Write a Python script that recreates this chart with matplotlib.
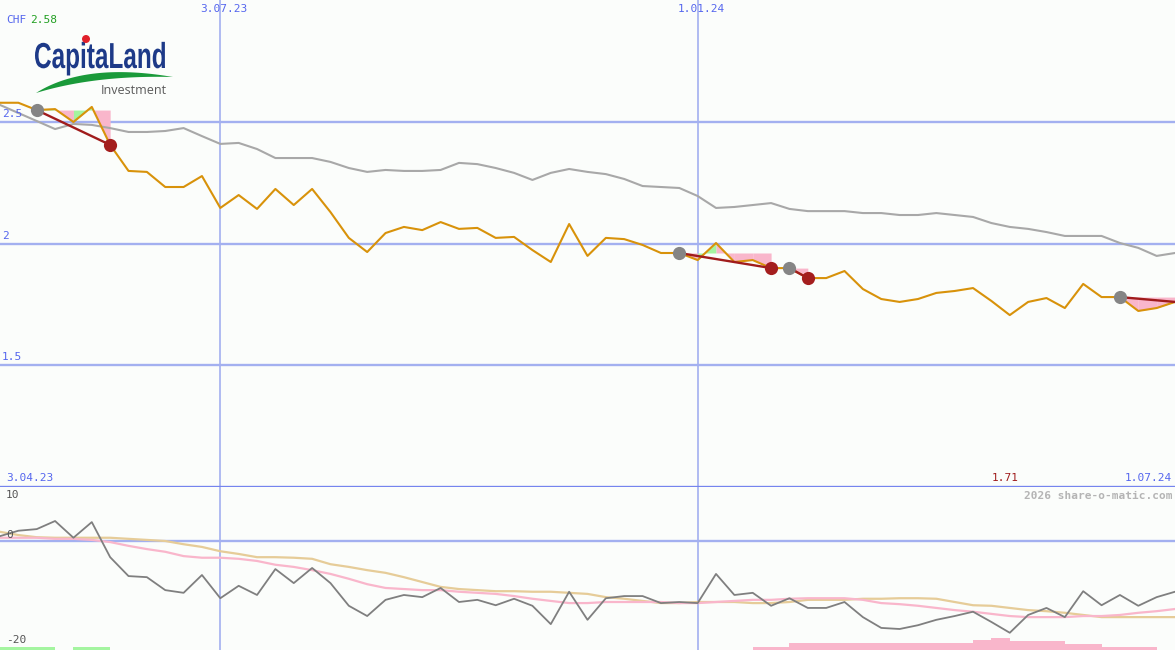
import numpy as np
import matplotlib.pyplot as plt
from matplotlib.patches import Polygon, Ellipse, PathPatch
from matplotlib.textpath import TextPath
from matplotlib.font_manager import FontProperties
from matplotlib.transforms import blended_transform_factory, Affine2D

# weekly closes, CHF
weeks = list(range(65))
price = [2.578, 2.578, 2.548, 2.552, 2.499, 2.561, 2.405, 2.298, 2.294, 2.232,
         2.232, 2.277, 2.146, 2.199, 2.142, 2.224, 2.158, 2.224, 2.129, 2.023,
         1.965, 2.043, 2.068, 2.055, 2.088, 2.060, 2.064, 2.023, 2.027, 1.973,
         1.924, 2.080, 1.949, 2.023, 2.018, 1.994, 1.961, 1.961, 1.932, 2.002,
         1.924, 1.932, 1.899, 1.899, 1.858, 1.858, 1.887, 1.813, 1.772, 1.760,
         1.772, 1.797, 1.805, 1.817, 1.764, 1.706, 1.760, 1.776, 1.735, 1.834,
         1.780, 1.780, 1.723, 1.735, 1.760]
avg_long = [2.569, 2.536, 2.503, 2.470, 2.491, 2.487, 2.474, 2.458, 2.458, 2.462,
            2.474, 2.441, 2.409, 2.413, 2.388, 2.351, 2.351, 2.351, 2.335, 2.310,
            2.294, 2.302, 2.298, 2.298, 2.302, 2.331, 2.326, 2.310, 2.290, 2.261,
            2.290, 2.306, 2.294, 2.285, 2.265, 2.236, 2.232, 2.228, 2.195, 2.146,
            2.150, 2.158, 2.166, 2.142, 2.133, 2.133, 2.133, 2.125, 2.125, 2.117,
            2.117, 2.125, 2.117, 2.109, 2.084, 2.068, 2.060, 2.047, 2.031, 2.031,
            2.031, 2.002, 1.982, 1.949, 1.961]

# lower panel, percent
perf = [0.9, 1.9, 2.2, 3.7, 0.6, 3.5, -3.0, -6.5, -6.7, -9.1,
        -9.6, -6.3, -10.6, -8.3, -10.0, -5.2, -7.8, -5.0, -7.8, -12.0,
        -13.9, -10.9, -10.0, -10.4, -8.7, -11.3, -10.9, -11.9, -10.7, -12.0,
        -15.4, -9.4, -14.6, -10.6, -10.2, -10.2, -11.5, -11.3, -11.5, -6.1,
        -10.0, -9.6, -12.0, -10.6, -12.4, -12.4, -11.3, -14.1, -16.1, -16.3,
        -15.6, -14.6, -13.9, -13.1, -15.0, -17.0, -13.7, -12.4, -14.1, -9.3,
        -11.9, -10.0, -12.0, -10.4, -9.4]
perf_fast = [0.6, 0.6, 0.6, 0.4, 0.4, 0.2, -0.2, -0.9, -1.5, -2.0,
             -2.8, -3.1, -3.1, -3.3, -3.7, -4.4, -4.8, -5.4, -6.1, -7.0,
             -8.0, -8.7, -8.9, -9.1, -9.1, -9.4, -9.6, -9.8, -10.2, -10.7,
             -11.1, -11.5, -11.5, -11.3, -11.3, -11.3, -11.3, -11.5, -11.5, -11.3,
             -11.1, -10.9, -10.9, -10.7, -10.6, -10.6, -10.6, -10.9, -11.5, -11.7,
             -12.0, -12.4, -12.8, -13.1, -13.5, -13.9, -14.1, -14.1, -14.1, -13.9,
             -13.9, -13.7, -13.3, -13.0, -12.6]
perf_slow = [1.7, 1.1, 0.7, 0.6, 0.6, 0.6, 0.6, 0.4, 0.2, 0.0,
             -0.6, -1.1, -1.9, -2.4, -3.0, -3.0, -3.1, -3.3, -4.3, -4.8,
             -5.4, -5.9, -6.7, -7.6, -8.5, -8.9, -9.1, -9.3, -9.3, -9.4,
             -9.4, -9.6, -9.8, -10.4, -10.7, -11.1, -11.5, -11.5, -11.3, -11.3,
             -11.3, -11.5, -11.5, -11.3, -10.9, -10.9, -10.9, -10.7, -10.7, -10.6,
             -10.6, -10.7, -11.3, -11.9, -12.0, -12.4, -12.8, -13.0, -13.3, -13.7,
             -14.1, -14.1, -14.1, -14.1, -14.1]
bars_green = [0.55, 0.55, 0.55, 0, 0.55, 0.55] + [0] * 58
bars_pink = ([0] * 41 + [0.55, 0.55] + [1.3] * 10 + [1.85, 2.2, 1.67, 1.67, 1.67,
             1.1, 1.1, 0.55, 0.55, 0.55, 0])

signals = [(2, 6), (37, 42), (43, 44), (61, 64)]
closed = [True, True, True, False]
green_segments = [2, 4, 38]

date_lines = [12, 38]
date_top = ['3.07.23', '1.01.24']
price_ticks = [2.5, 2.0, 1.5]
price_labels = ['2.5', '2', '1.5']
perf_ticks = [10, 0, -20]
perf_labels = ['10', '0', '-20']

W, H = 1175, 650
bg = '#fbfdfb'
grid = '#a3b0f0'
blue = '#5566ee'
mono = 'DejaVu Sans Mono'


def px(x, y):
    return x / W, 1 - y / H


fig = plt.figure(figsize=(W / 100, H / 100), dpi=100)
fig.patch.set_facecolor(bg)
ax = fig.add_axes([0, 163 / H, 1, 487 / H])
ax2 = fig.add_axes([0, 0, 1, 163 / H])
for a in (ax, ax2):
    a.set_facecolor(bg)
    a.set_xlim(0, 64)
    a.set_xticks([])
    a.set_yticks([])
    for s in a.spines.values():
        s.set_visible(False)
    for d in date_lines:
        a.axvline(d, color=grid, lw=1.2, zorder=1)
ax.set_ylim(1.0, 3.0)
ax2.set_ylim(-20.19, 10)

for v in price_ticks:
    ax.axhline(v, color=grid, lw=1.7, zorder=1)
ax2.axhline(0, color=grid, lw=1.7, zorder=1)
ax.axhline(1.0, color='#7584ee', lw=2.4, zorder=6, clip_on=False)

# signal zones
for (s, e), c in zip(signals, closed):
    level = price[s]
    for j in range(s, e):
        col = '#a4f5a0' if j in green_segments else '#f9b6cb'
        ax.fill_between([j, j + 1], [price[j], price[j + 1]], level,
                        color=col, lw=0, zorder=2)

ax.plot(weeks, avg_long, color='#a8a8a8', lw=1.5, zorder=3)
ax.plot(weeks, price, color='#d8920a', lw=1.5, zorder=3)

for (s, e), c in zip(signals, closed):
    ax.plot([s, e], [price[s], price[e]], color='#a01c1c', lw=1.7, zorder=4)
    ax.plot(s, price[s], 'o', color='#858585', ms=9.5, mew=0, zorder=5)
    if c:
        ax.plot(e, price[e], 'o', color='#a41e1e', ms=9.5, mew=0, zorder=5)

# lower panel
ax2.bar(weeks[:-1], bars_green, width=1, align='edge', bottom=-20.19,
        color='#a4f5a0', lw=0, zorder=2)
ax2.bar(weeks[:-1], bars_pink, width=1, align='edge', bottom=-20.19,
        color='#f9b6cb', lw=0, zorder=2)
ax2.plot(weeks, perf_slow, color='#e6cc98', lw=1.6, zorder=3)
ax2.plot(weeks, perf_fast, color='#f9b6cb', lw=1.6, zorder=3)
ax2.plot(weeks, perf, color='#7f7f7f', lw=1.3, zorder=4)

# labels
tr = blended_transform_factory(ax.transData, fig.transFigure)
for d, lab in zip(date_lines, date_top):
    ax.text(d + 0.2, px(0, 9)[1], lab, transform=tr, ha='center', va='center',
            fontsize=8, family=mono, color=blue)
for v, lab in zip(price_ticks, price_labels):
    ax.text(0.1, v + 0.012, lab, ha='left', va='bottom', fontsize=8,
            family=mono, color=blue, zorder=7)
for v, lab in zip(perf_ticks, perf_labels):
    yy = {10: 495, 0: 535, -20: 640}[v]
    fig.text(*px(6, yy), lab, ha='left', va='center', fontsize=8,
             family=mono, color='#555555', zorder=7)

fig.text(*px(6, 20), 'CHF', ha='left', va='center', fontsize=8, family=mono, color=blue)
fig.text(*px(30, 20), '2.58', ha='left', va='center', fontsize=8, family=mono, color='#22a022')
fig.text(*px(6, 478), '3.04.23', ha='left', va='center', fontsize=8, family=mono, color=blue)
fig.text(*px(1172, 478), '1.07.24', ha='right', va='center', fontsize=8, family=mono, color=blue)
ax.text(55 - 0.25, px(0, 478)[1], '1.71', transform=tr, ha='center', va='center',
        fontsize=8, family=mono, color='#a01c1c')
fig.text(*px(1172, 496), '2026 share-o-matic.com', ha='right', va='center',
         fontsize=8, family=mono, color='#b4b4b4', weight='bold')

# logo: condensed wordmark
tp = TextPath((0, 0), 'CapitaLand', size=100,
              prop=FontProperties(family='Liberation Sans', weight='bold'))
ext = tp.get_extents()
sx = 130 / ext.width
sy = 26 / 72.0
logo_tr = Affine2D().translate(-ext.x0, 0).scale(sx, sy).translate(35, H - 68)
fig.add_artist(PathPatch(tp, transform=logo_tr, color='#1d3a88', lw=0))
fig.add_artist(Ellipse(px(86, 39), 8 / W, 8 / H, color='#e0202a', lw=0))
t = np.linspace(0, 1, 40)


def bez(p0, p1, p2):
    p0, p1, p2 = map(np.array, (p0, p1, p2))
    return ((1 - t) ** 2)[:, None] * p0 + (2 * (1 - t) * t)[:, None] * p1 + (t ** 2)[:, None] * p2


upper = bez((36, 93), (85, 62), (173, 77))
lower = bez((36, 93), (95, 75), (173, 77))
pts = np.vstack([upper, lower[::-1]])
pts = np.column_stack([pts[:, 0] / W, 1 - pts[:, 1] / H])
fig.add_artist(Polygon(pts, closed=True, color='#1a9a3a', lw=0, transform=fig.transFigure))
fig.text(*px(101, 90), 'Investment', ha='left', va='center', fontsize=9,
         family=['Open Sans', 'DejaVu Sans'], color='#5a5a5a')

fig.savefig('out.png', dpi=100, facecolor=bg)
